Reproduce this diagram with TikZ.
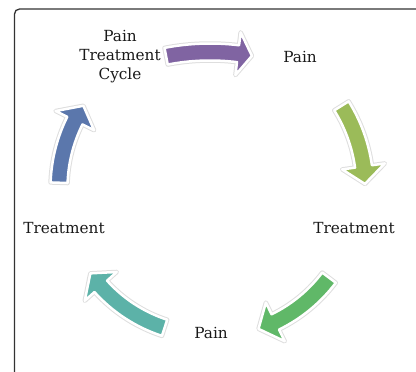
\documentclass[tikz,border=0pt]{standalone}
\usepackage{fontspec}
\setmainfont{DejaVu Serif}
\definecolor{cpurple}{HTML}{8064A2}
\definecolor{colive}{HTML}{9BBB59}
\definecolor{cgreen}{HTML}{60B868}
\definecolor{cteal}{HTML}{5CB2A8}
\definecolor{cblue}{HTML}{5B77AC}
\tikzset{
  lbl/.style={font=\fontsize{15.3}{19}\selectfont, align=center, text=black!90, inner sep=0pt},
  framebox/.style={draw=black!80, line width=1.3pt, rounded corners=5pt},
  blockarrow/.style={fill=#1, draw=white, line width=2.5pt, line join=round,
    preaction={draw=black!13, line width=4.5pt, line join=round}}
}
% #1 cx, #2 cy, #3 radius, #4 tail angle, #5 head base angle, #6 tip angle, #7 colour
\newcommand\cyclearrow[7]{%
  \pgfmathsetmacro\caRo{#3+8.5}%
  \pgfmathsetmacro\caRi{#3-8.5}%
  \pgfmathsetmacro\caHo{#3+21.5}%
  \pgfmathsetmacro\caHi{#3-21.5}%
  \begin{scope}[shift={(#1,#2)}]
    \path[blockarrow=#7] (#4:\caRo) arc[start angle=#4, end angle=#5, radius=\caRo]
      -- (#5:\caHo) -- (#6:#3) -- (#5:\caHi) -- (#5:\caRi)
      arc[start angle=#5, end angle=#4, radius=\caRi] -- cycle;
  \end{scope}%
}
\begin{document}
\begin{tikzpicture}[x=1pt,y=-1pt]
  \useasboundingbox (0,0) rectangle (416,372);
  \draw[framebox] (14.5,380) -- (14.5,9) -- (425,9);
  % arrows
  \cyclearrow{210}{282}{230}{-101}{-83}{-79.5}{cpurple}
  \cyclearrow{210}{188}{155}{-32}{-8}{-1.5}{colive}
  \cyclearrow{210}{188}{149}{37}{64}{71}{cgreen}
  \cyclearrow{210}{188}{147}{108}{138}{144.5}{cteal}
  \cyclearrow{210}{188}{151}{182}{206.5}{213}{cblue}
  % labels
  \node[lbl] (cycle) at (120,57) {Pain\\Treatment\\Cycle};
  \node[lbl] (pain1) at (300,57) {Pain};
  \node[lbl] (treat1) at (354,228) {Treatment};
  \node[lbl] (pain2) at (211,333) {Pain};
  \node[lbl] (treat2) at (64,228) {Treatment};
\end{tikzpicture}
\end{document}
